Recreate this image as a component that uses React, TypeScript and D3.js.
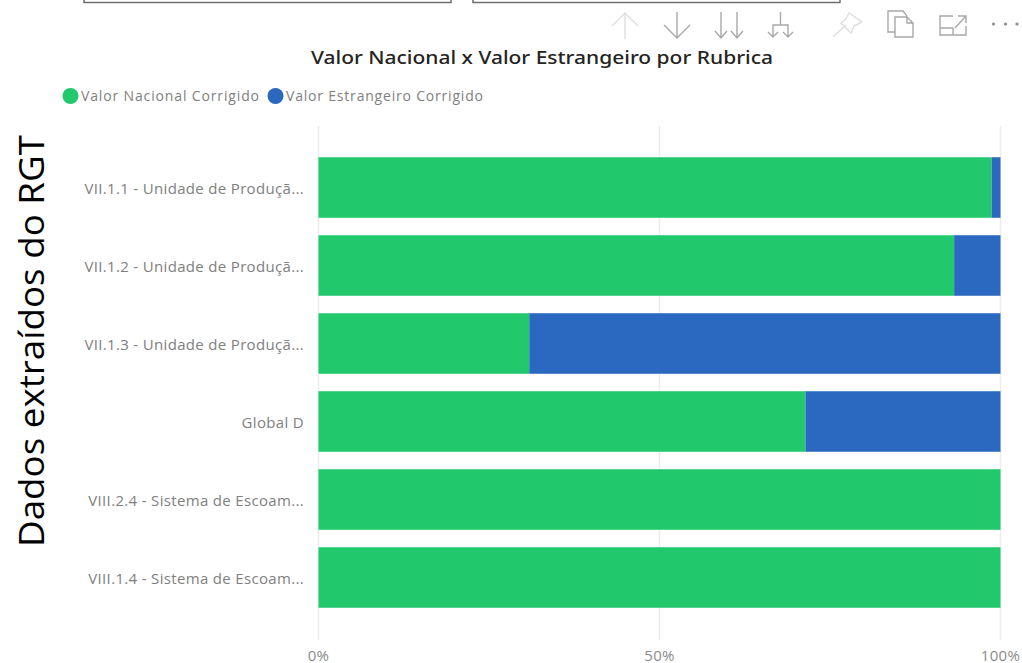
import React from "react";
import * as d3 from "d3";

const categories = [
  "VII.1.1 - Unidade de Produçã...",
  "VII.1.2 - Unidade de Produçã...",
  "VII.1.3 - Unidade de Produçã...",
  "Global D",
  "VIII.2.4 - Sistema de Escoam...",
  "VIII.1.4 - Sistema de Escoam...",
];
const nacional = [98.7, 93.2, 30.9, 71.4, 100, 100];
const estrangeiro = [1.3, 6.8, 69.1, 28.6, 0, 0];
const xTicks = [0, 50, 100];
const seriesNames = ["Valor Nacional Corrigido", "Valor Estrangeiro Corrigido"];
const GREEN = "#21c96c";
const BLUE = "#2a69bf";
const ICON = "#a8a8a8";
const FAINT = "#dedede";

const x = d3.scaleLinear().domain([0, 100]).range([318.5, 1000.5]);
const y = d3.scaleBand<string>().domain(categories).range([148.5, 616.5]).paddingInner(0.224).paddingOuter(0.112);

const TITLE = "'Noto Sans', sans-serif";
const SEGOE = "'Open Sans', sans-serif";

function Icons() {
  const s = { fill: "none", strokeWidth: 1.4 } as const;
  return (
    <g>
      <path d="M625 39V13M612 26L625 13L638 26" stroke={FAINT} {...s} />
      <path d="M677 12V38M664 25L677 38L690 25" stroke={ICON} {...s} />
      <path d="M721 12V38M715 31L721 38L727 31M737 12V38M731 31L737 38L743 31" stroke={ICON} {...s} />
      <path d="M780.5 12V25M773 37V25H788V37M768 32L773 37L778 32M783 32L788 37L793 32" stroke={ICON} {...s} />
      <path d="M833 37L846 25M849 13L862 22L854 26L851 33L841 23L846 19Z" stroke={FAINT} {...s} />
      <path d="M895 32H888V11H903L907 16M895 17H907L913 23V37H895ZM907 17V23H913" stroke={ICON} {...s} />
      <path d="M953 16H940V35H966V26M940 28H953V35M955 28L966 16M958 16H966V23" stroke={ICON} {...s} />
      <circle cx="993.5" cy="24" r="1.6" fill="#8c8c8c" />
      <circle cx="1005.5" cy="24" r="1.6" fill="#8c8c8c" />
      <circle cx="1017" cy="24" r="1.6" fill="#8c8c8c" />
    </g>
  );
}

export default function App() {
  const stacks = categories.map((c, i) => ({ c, n: nacional[i], e: estrangeiro[i] }));
  return (
    <svg width={1022} height={663} style={{ position: "absolute", left: 0, top: 0, background: "#fff" }}>
      <rect x={84} y={-10} width={367} height={12.5} fill="#fff" stroke="#6e6e6e" strokeWidth={1.5} />
      <rect x={473} y={-10} width={367} height={12.5} fill="#fff" stroke="#6e6e6e" strokeWidth={1.5} />
      <Icons />

      <text x={542} y={63.5} textAnchor="middle" fontFamily={TITLE} fontSize={18} fontWeight={500} fill="#252423" textLength={462} lengthAdjust="spacingAndGlyphs">
        Valor Nacional x Valor Estrangeiro por Rubrica
      </text>

      <circle cx={70.5} cy={96} r={8} fill={GREEN} />
      <text x={81} y={100.5} fontFamily={SEGOE} fontSize={14} fill="#7f7f7f" textLength={178} lengthAdjust="spacing">{seriesNames[0]}</text>
      <circle cx={275.5} cy={96} r={8} fill={BLUE} />
      <text x={286} y={100.5} fontFamily={SEGOE} fontSize={14} fill="#7f7f7f" textLength={197} lengthAdjust="spacing">{seriesNames[1]}</text>

      <text transform="translate(44,341) rotate(-90)" textAnchor="middle" fontFamily={SEGOE} fontSize={34} fill="#000" textLength={412} lengthAdjust="spacingAndGlyphs">
        Dados extraídos do RGT
      </text>

      {xTicks.map((t) => (
        <g key={t}>
          <line x1={x(t)} x2={x(t)} y1={126} y2={640} stroke="#ececec" strokeWidth={1.5} />
          <text x={x(t)} y={660.5} textAnchor="middle" fontFamily={SEGOE} fontSize={15} letterSpacing={0.3} fill="#8a8a8a">{t}%</text>
        </g>
      ))}

      {stacks.map((d) => (
        <g key={d.c}>
          <rect x={x(0)} y={y(d.c)} width={x(d.n) - x(0)} height={y.bandwidth()} fill={GREEN} />
          {d.e > 0 && <rect x={x(d.n)} y={y(d.c)} width={x(d.n + d.e) - x(d.n)} height={y.bandwidth()} fill={BLUE} />}
          <text x={304} y={(y(d.c) as number) + y.bandwidth() / 2 + 6} textAnchor="end" fontFamily={SEGOE} fontSize={15} letterSpacing={0.33} fill="#808080">{d.c}</text>
        </g>
      ))}
    </svg>
  );
}
